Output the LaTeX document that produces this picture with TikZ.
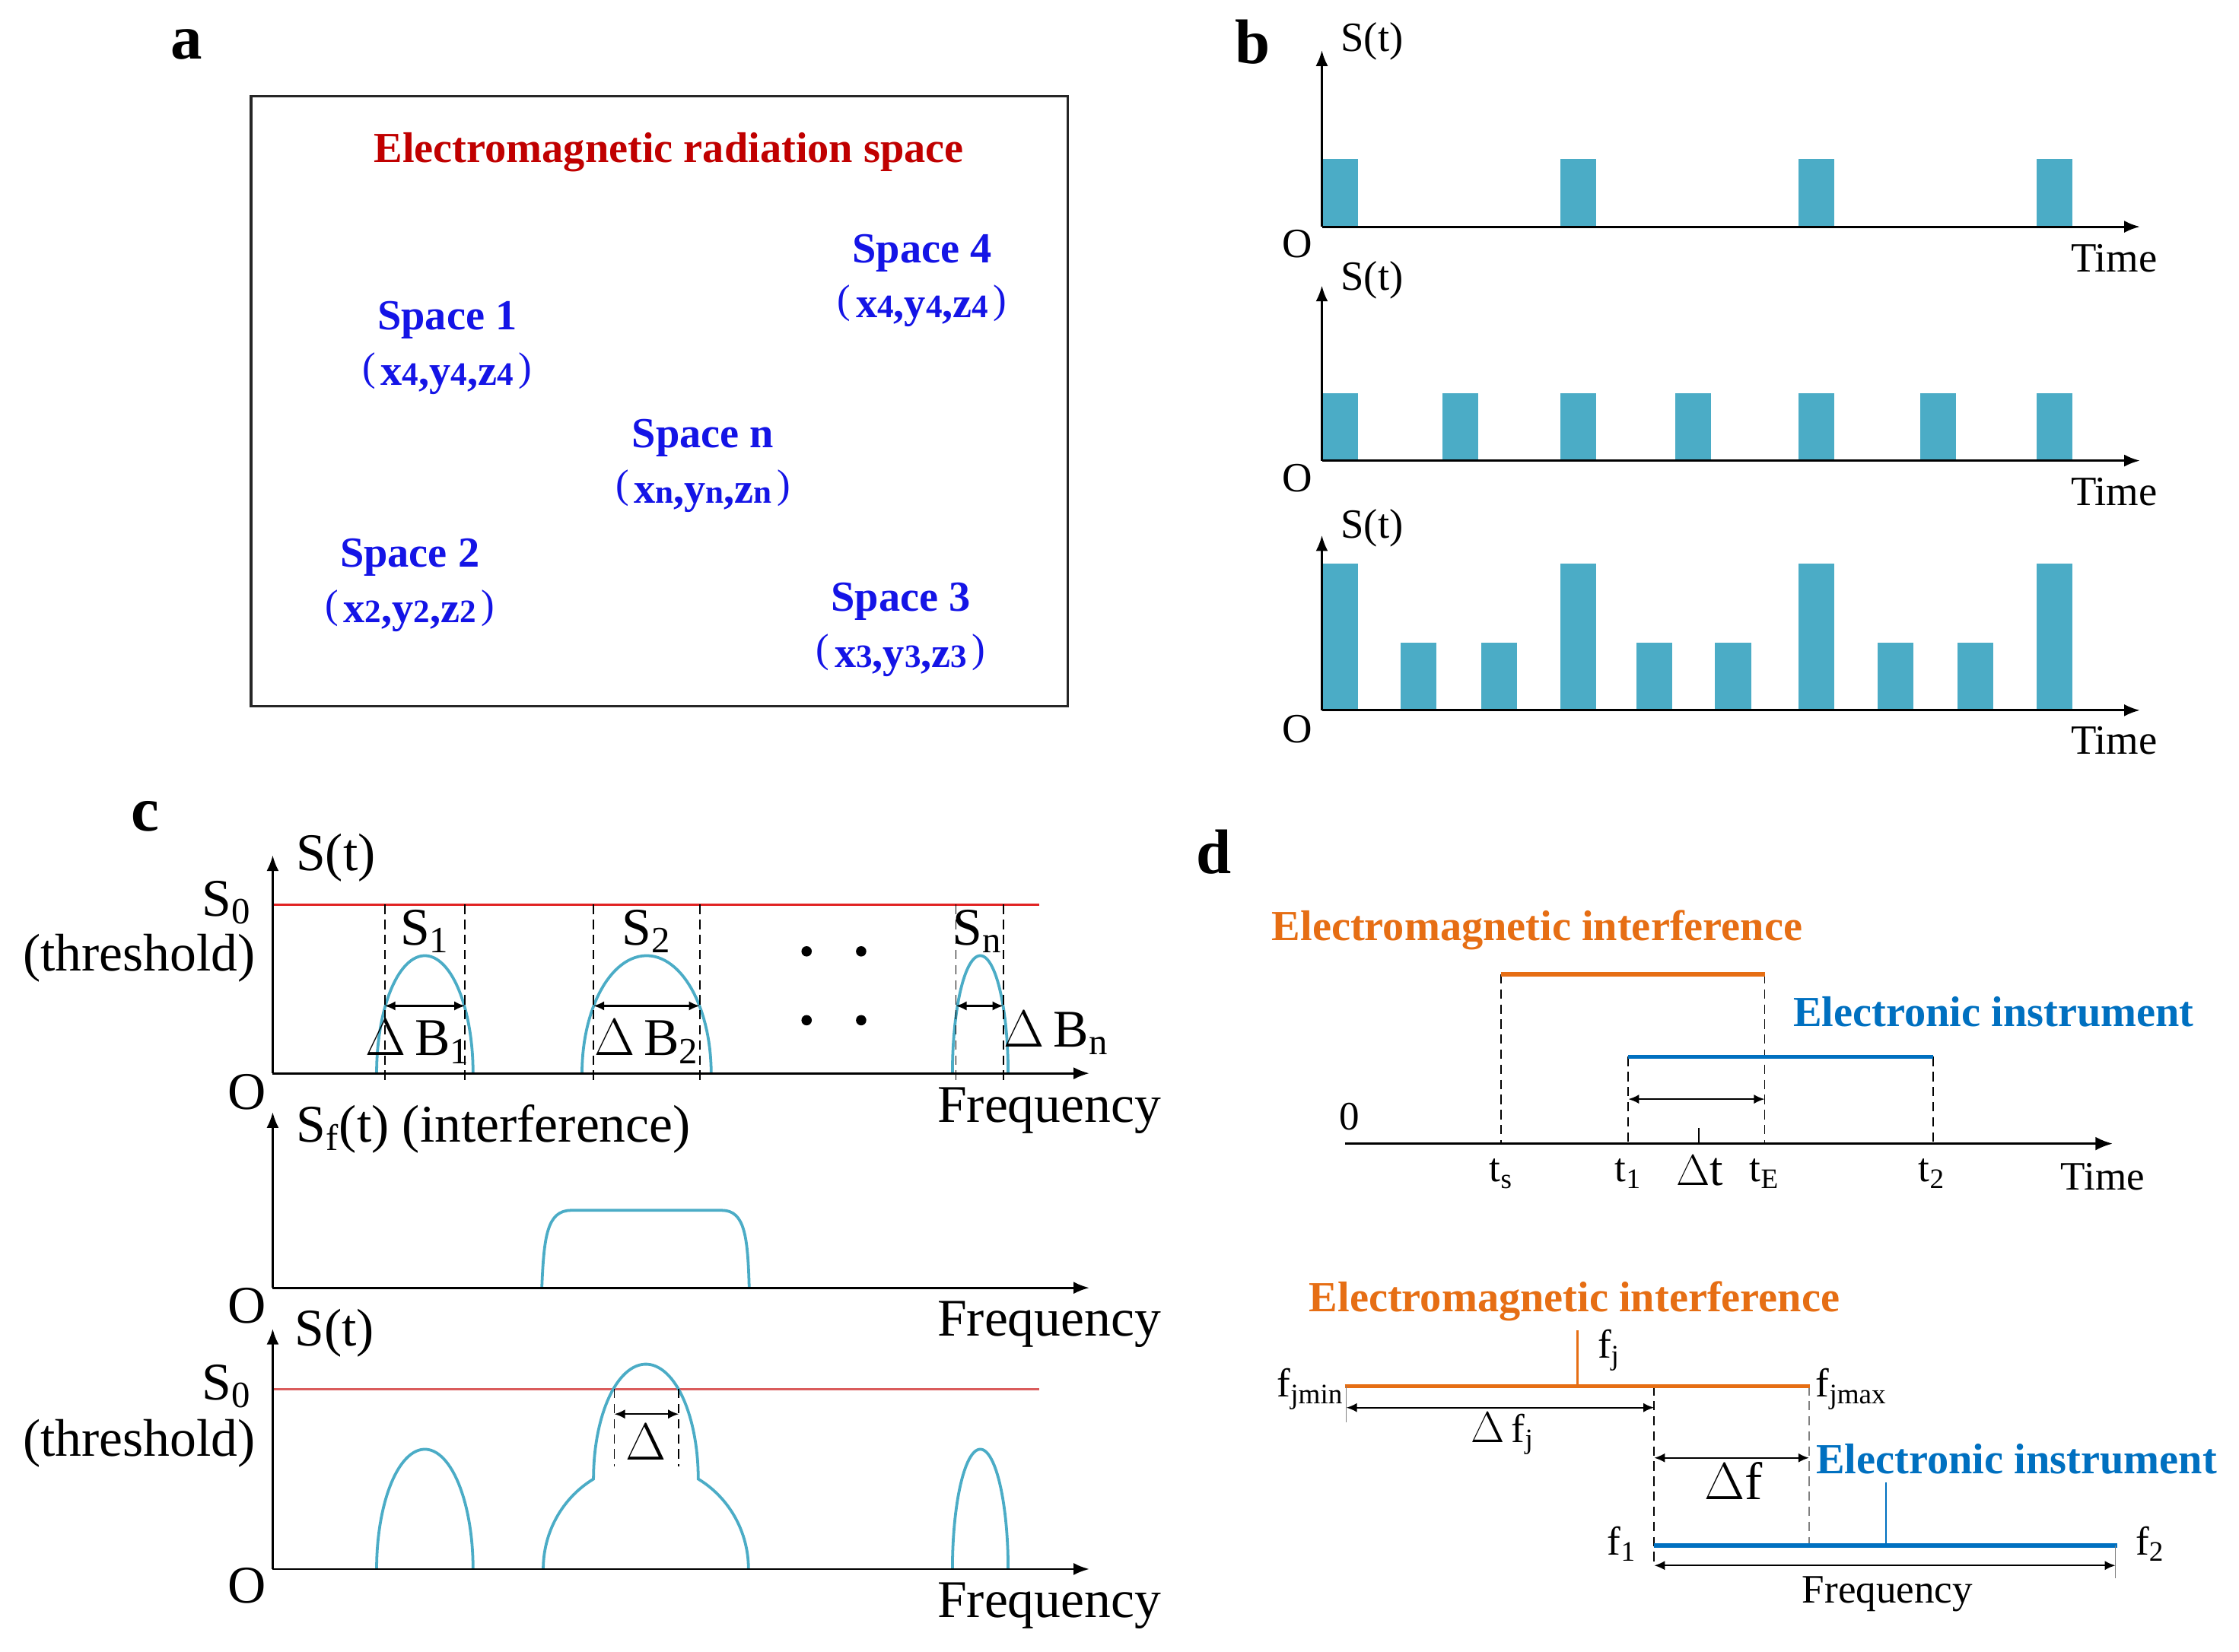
\documentclass[tikz,border=0pt]{standalone}
\usepackage{fontspec}
\setmainfont{Liberation Serif}
\usetikzlibrary{arrows.meta}
\definecolor{ablue}{RGB}{20,20,230}
\definecolor{ared}{RGB}{192,0,0}
\definecolor{barc}{RGB}{75,172,198}
\definecolor{cred}{RGB}{225,35,35}
\definecolor{cred2}{RGB}{218,92,92}
\definecolor{dorange}{RGB}{230,110,20}
\definecolor{dblue}{RGB}{0,112,192}
\newcommand{\lpar}{{\mdseries\fontsize{16}{18}\selectfont\raisebox{0.12em}{(}}\hspace{2pt}}
\newcommand{\rpar}{\hspace{2pt}{\mdseries\fontsize{16}{18}\selectfont\raisebox{0.12em}{)}}}
\newcommand{\smd}[1]{{\fontsize{13}{15}\selectfont #1}}
\begin{document}
\begin{tikzpicture}[x=0.2mm,y=-0.2mm,
  plbl/.style={font=\fontsize{25}{30}\selectfont\bfseries, inner sep=0pt},
  atxt/.style={font=\fontsize{17}{20}\selectfont\bfseries, text=ablue, inner sep=0pt, anchor=base},
  btxt/.style={font=\fontsize{16.5}{20}\selectfont, inner sep=0pt},
  ctxt/.style={font=\fontsize{21}{25}\selectfont, inner sep=0pt},
  dtxt/.style={font=\fontsize{16}{19}\selectfont, inner sep=0pt},
  dttl/.style={font=\fontsize{17}{20}\selectfont\bfseries, inner sep=0pt},
  axisln/.style={line width=0.3mm, -{Latex[length=2.2mm,width=1.7mm]}},
  sig/.style={draw=barc, line width=0.4mm},
  dashln/.style={line width=0.2mm, dash pattern=on 1.3mm off 0.8mm},
  dbl/.style={line width=0.25mm, {Latex[length=1.5mm,width=1.3mm]}-{Latex[length=1.5mm,width=1.3mm]}},
  redln/.style={draw=cred, line width=0.35mm},
]
\useasboundingbox (0,0) rectangle (1560,1151);

% ---------------- panel a ----------------
\node[plbl] (la) at (130,31) {a};
\draw[line width=0.35mm, draw=black!85] (175,67) rectangle (744,492);
\node[atxt, text=ared] (atitle) at (466,113) {Electromagnetic radiation space};
\node[atxt] (sp4) at (642.5,183) {Space 4};
\node[atxt] (cd4) at (642.5,221.5) {\lpar x\smd{4},y\smd{4},z\smd{4}\rpar};
\node[atxt] (sp1) at (311.6,230) {Space 1};
\node[atxt] (cd1) at (311.6,268.5) {\lpar x\smd{4},y\smd{4},z\smd{4}\rpar};
\node[atxt] (spn) at (489.8,312) {Space n};
\node[atxt] (cdn) at (489.8,350.5) {\lpar x\smd{n},y\smd{n},z\smd{n}\rpar};
\node[atxt] (sp2) at (285.5,395) {Space 2};
\node[atxt] (cd2) at (285.5,434) {\lpar x\smd{2},y\smd{2},z\smd{2}\rpar};
\node[atxt] (sp3) at (627.7,426) {Space 3};
\node[atxt] (cd3) at (627.7,465) {\lpar x\smd{3},y\smd{3},z\smd{3}\rpar};

% ---------------- panel b ----------------
\node[plbl] (lb) at (873,29) {b};
\foreach \l in {921,1087,1253,1419} \fill[barc] (\l,111) rectangle ++(25,47);
\foreach \l in {921,1005,1087,1167,1253,1338,1419} \fill[barc] (\l,274) rectangle ++(25,47);
\foreach \l in {921,1087,1253,1419} \fill[barc] (\l,393) rectangle ++(25,102);
\foreach \l in {976,1032,1140,1195,1308,1364} \fill[barc] (\l,448) rectangle ++(25,47);
\foreach \y/\t/\n/\s/\o/\m in {158/35/1/29/170/180, 321/199/2/195/333/343, 495/373/3/368/508/516} {
  \coordinate (bo\n) at (921,\y);
  \coordinate (bt\n) at (921,\t);
  \coordinate (bx\n) at (1491,\y);
  \draw[axisln] (bo\n) -- (bt\n);
  \draw[axisln] (bo\n) -- (bx\n);
  \node[btxt] (bS\n) at (956,\s) {S(t)};
  \node[btxt] (bO\n) at (904,\o) {O};
  \node[btxt] (bT\n) at (1473,\m) {Time};
}

% ---------------- panel c ----------------
\node[plbl] (lc) at (101,569) {c};
% graph 1
\coordinate (c1o) at (190,748); \coordinate (c1t) at (190,596); \coordinate (c1x) at (759,748);
\coordinate (c1r) at (190,630.5); \coordinate (c1re) at (724,630.5);
\draw[redln] (c1r) -- (c1re);
\draw[sig] plot[domain=180:0,samples=60] ({296+33.6*cos(\x)},{748-82*sin(\x)});
\draw[sig] plot[domain=180:0,samples=60] ({450.5+45*cos(\x)},{748-82*sin(\x)});
\draw[sig] plot[domain=180:0,samples=60] ({683+19.4*cos(\x)},{748-82*sin(\x)});
\foreach \xx in {268,324,413.5,487.5,666,699} \draw[dashln] (\xx,630.5) -- (\xx,756);
\draw[dbl] (268,701) -- (324,701);
\draw[dbl] (413.5,701) -- (487.5,701);
\draw[dbl] (666,701) -- (699,701);
\draw[axisln] (c1o) -- (c1t);
\draw[axisln] (c1o) -- (c1x);
\foreach \px/\py in {562/663,600/663,562/711,600/711} \fill (\px,\py) circle[radius=3.6];
\node[ctxt] (c1S) at (234,598) {S(t)};
\node[ctxt] (c1S0) at (158,629) {S\textsubscript{0}};
\node[ctxt] (c1th) at (97,668) {(threshold)};
\node[ctxt] (c1O) at (172,761) {O};
\node[ctxt] (c1F) at (731,774) {Frequency};
\node[ctxt] (cS1) at (296,649) {S\textsubscript{1}};
\node[ctxt] (cS2) at (450.5,649) {S\textsubscript{2}};
\node[ctxt] (cSn) at (681,649) {S\textsubscript{n}};
\node[ctxt] (cB1) at (291,726) {$\Delta$\,B\textsubscript{1}};
\node[ctxt] (cB2) at (450.5,726) {$\Delta$\,B\textsubscript{2}};
\node[ctxt] (cBn) at (736,720) {$\Delta$\,B\textsubscript{n}};
% graph 2
\coordinate (c2o) at (190,897.5); \coordinate (c2t) at (190,775); \coordinate (c2x) at (759,897.5);
\draw[sig] (377.5,897.5) .. controls (379,862) and (381,843.5) .. (398,843.5) -- (503,843.5) .. controls (519,843.5) and (521,862) .. (522,897.5);
\draw[axisln] (c2o) -- (c2t);
\draw[axisln] (c2o) -- (c2x);
\node[ctxt, anchor=west] (c2S) at (206,787) {S\textsubscript{f}(t) (interference)};
\node[ctxt] (c2O) at (172,910) {O};
\node[ctxt] (c2F) at (731,923) {Frequency};
% graph 3
\coordinate (c3o) at (190,1093.5); \coordinate (c3t) at (190,926); \coordinate (c3x) at (759,1093.5);
\coordinate (c3r) at (190,968); \coordinate (c3re) at (724,968);
\draw[redln, draw=cred2] (c3r) -- (c3re);
\draw[sig] plot[domain=180:0,samples=60] ({296+33.6*cos(\x)},{1093.5-83.5*sin(\x)});
\draw[sig] plot[domain=180:0,samples=60] ({683+19.4*cos(\x)},{1093.5-83.5*sin(\x)});
\draw[sig] plot[domain=180:120.7,samples=30] ({450+71.5*cos(\x)},{1093.5-73*sin(\x)})
  -- plot[domain=180:0,samples=60] ({450+36.5*cos(\x)},{1030.7-80*sin(\x)})
  -- plot[domain=59.3:0,samples=30] ({450+71.5*cos(\x)},{1093.5-73*sin(\x)});
\draw[dashln] (428,968) -- (428,1022);
\draw[dashln] (473,968) -- (473,1022);
\draw[dbl] (428,985.5) -- (473,985.5);
\draw[axisln] (c3o) -- (c3t);
\draw[axisln] (c3o) -- (c3x);
\node[ctxt] (c3S) at (233,929) {S(t)};
\node[ctxt] (c3S0) at (158,966) {S\textsubscript{0}};
\node[ctxt] (c3th) at (97,1006) {(threshold)};
\node[ctxt] (c3O) at (172,1105) {O};
\node[ctxt] (c3F) at (731,1119) {Frequency};
\node[ctxt] (c3D) at (450,1005) {$\Delta$};

% ---------------- panel d (time) ----------------
\node[plbl] (ld) at (846,594) {d};
\node[dttl, text=dorange] (d1ttl) at (1071,648) {Electromagnetic interference};
\node[dttl, text=dblue] (d1ttl2) at (1389,705) {Electronic instrument};
\coordinate (tsT) at (1046,679); \coordinate (tET) at (1229.5,679);
\coordinate (t1T) at (1134.5,736.5); \coordinate (t2T) at (1347,736.5);
\coordinate (tsB) at (1046,796); \coordinate (tEB) at (1229.5,796);
\coordinate (t1B) at (1134.5,796); \coordinate (t2B) at (1347,796);
\foreach \a/\b in {tsT/tsB,tET/tEB,t1T/t1B,t2T/t2B} \draw[dashln] (\a) -- (\b);
\draw[dorange, line width=0.6mm] (tsT) -- (tET);
\draw[dblue, line width=0.6mm] (t1T) -- (t2T);
\coordinate (dax0) at (937,797); \coordinate (dax1) at (1472,797);
\draw[line width=0.3mm, -{Latex[length=2.4mm,width=1.9mm]}] (dax0) -- (dax1);
\draw[line width=0.2mm] (1183.5,786) -- (1183.5,797);
\draw[dbl] (1134.5,766) -- (1229.5,766);
\node[dtxt] (d0) at (940,778) {0};
\node[dtxt] (dts) at (1046,818) {t\textsubscript{s}};
\node[dtxt] (dt1) at (1134.5,818) {t\textsubscript{1}};
\node[font=\fontsize{19}{22}\selectfont, inner sep=0pt] (ddt) at (1184.5,816) {$\Delta$t};
\node[dtxt] (dtE) at (1229.5,818) {t\textsubscript{E}};
\node[dtxt] (dt2) at (1346,818) {t\textsubscript{2}};
\node[dtxt] (dTime) at (1465,820) {Time};

% ---------------- panel d (frequency) ----------------
\node[dttl, text=dorange] (d2ttl) at (1097,907) {Electromagnetic interference};
\node[dttl, text=dblue] (d2ttl2) at (1405,1017) {Electronic instrument};
\coordinate (fmin) at (937,966); \coordinate (fmax) at (1261,966);
\coordinate (fjb) at (1099,966); \coordinate (fjt) at (1099,927);
\coordinate (f1) at (1152.5,1077); \coordinate (f2) at (1475,1077);
\coordinate (fib) at (1314,1077); \coordinate (fit) at (1314,1033);
\draw[dashln] (1152.5,966) -- (1152.5,1091);
\draw[dashln, draw=gray] (1260.5,966) -- (1260.5,1077);
\draw[dorange, line width=0.6mm] (fmin) -- (fmax);
\draw[dorange, line width=0.3mm] (fjb) -- (fjt);
\draw[dblue, line width=0.6mm] (f1) -- (f2);
\draw[dblue, line width=0.3mm] (fib) -- (fit);
\draw[line width=0.12mm, draw=gray] (938,966) -- (938,991);
\draw[line width=0.12mm, draw=gray] (1474,1077) -- (1474,1100);
\draw[dbl] (938,981) -- (1152.5,981);
\draw[dbl] (1152.5,1016) -- (1260.5,1016);
\draw[dbl] (1152.5,1091) -- (1474,1091);
\node[dtxt] (dfj) at (1121,941) {f\textsubscript{j}};
\node[dtxt] (dfmin) at (913,968) {f\textsubscript{jmin}};
\node[dtxt] (dfmax) at (1290,968) {f\textsubscript{jmax}};
\node[dtxt] (ddfj) at (1047,999) {$\Delta$\,f\textsubscript{j}};
\node[font=\fontsize{21}{25}\selectfont, inner sep=0pt] (ddf) at (1208,1032) {$\Delta$f};
\node[dtxt] (df1) at (1130,1076) {f\textsubscript{1}};
\node[dtxt] (df2) at (1498,1076) {f\textsubscript{2}};
\node[dtxt] (dfreq) at (1315,1111) {Frequency};
\end{tikzpicture}
\end{document}
